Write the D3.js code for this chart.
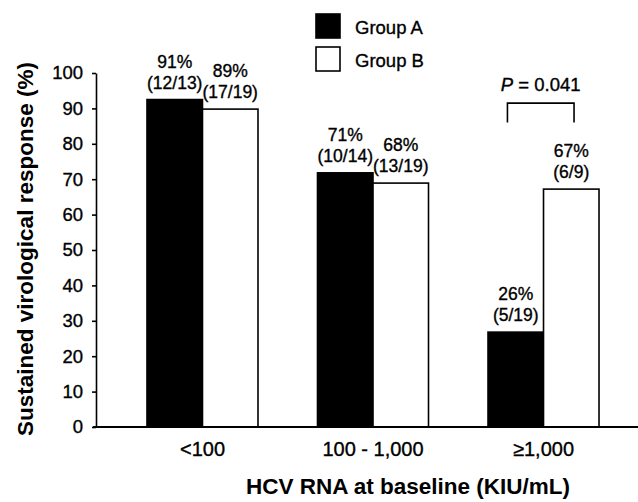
<!DOCTYPE html>
<html>
<head>
<meta charset="utf-8">
<script src="https://cdn.jsdelivr.net/npm/d3@7"></script>
<style>
  html, body { margin: 0; padding: 0; background: #fff; }
  svg { display: block; font-family: "Liberation Sans", Arial, Helvetica, sans-serif; }
  .thick { stroke: #000; stroke-width: 0.35px; }
</style>
</head>
<body>
<svg id="chart" width="638" height="502"></svg>
<script>
// ---- data ----
const categories = ["<100", "100 - 1,000", "\u22651,000"];
const seriesNames = ["Group A", "Group B"];
const groupA = [92.5, 71.8, 26.8];
const groupB = [89.8, 68.9, 67.2];
const groupAPct = ["91%", "71%", "26%"];
const groupBPct = ["89%", "68%", "67%"];
const groupAFrac = ["(12/13)", "(10/14)", "(5/19)"];
const groupBFrac = ["(17/19)", "(13/19)", "(6/9)"];
const yTicks = [0, 10, 20, 30, 40, 50, 60, 70, 80, 90, 100];
const pText = "0.041";
const pCategory = "\u22651,000";

// ---- layout ----
const svg = d3.select("#chart");
const W = 638, H = 502;
const axisX = 96, axisBottom = 427, axisTop = 73;

const y = d3.scaleLinear().domain([0, 100]).range([axisBottom, axisTop]);
const x = d3.scaleBand().domain(categories).range([axisX, 650])
  .paddingInner(0.349).paddingOuter(0.299).align(0.5);
const xs = d3.scaleBand().domain(seriesNames).range([0, x.bandwidth()]).padding(0);

const rows = [];
categories.forEach((c, i) => {
  rows.push({cat: c, s: "Group A", v: groupA[i], pct: groupAPct[i], frac: groupAFrac[i]});
  rows.push({cat: c, s: "Group B", v: groupB[i], pct: groupBPct[i], frac: groupBFrac[i]});
});

// bars
svg.append("g").selectAll("rect").data(rows).join("rect")
  .attr("x", d => x(d.cat) + xs(d.s))
  .attr("y", d => y(d.v))
  .attr("width", xs.bandwidth())
  .attr("height", d => y(0) - y(d.v))
  .attr("fill", d => d.s === "Group A" ? "#000" : "#fff")
  .attr("stroke", "#000")
  .attr("stroke-width", 1.6);

// bar labels
const lab = svg.append("g").attr("font-size", 17.5).attr("text-anchor", "middle").attr("fill", "#000");
rows.forEach(d => {
  const cx = x(d.cat) + xs(d.s) + xs.bandwidth() / 2;
  lab.append("text").attr("class", "thick").attr("x", cx).attr("y", y(d.v) - 32).text(d.pct);
  lab.append("text").attr("class", "thick").attr("x", cx).attr("y", y(d.v) - 11).text(d.frac);
});

// y axis
const yAxis = d3.axisLeft(y).tickValues(yTicks).tickSize(4).tickPadding(9).tickSizeOuter(0);
const gy = svg.append("g").attr("transform", `translate(${axisX},0)`).call(yAxis);
gy.select(".domain").attr("stroke", "#000").attr("stroke-width", 1.6);
gy.selectAll(".tick line").attr("stroke", "#000").attr("stroke-width", 1.6);
gy.selectAll(".tick text").attr("font-size", 18.5).attr("fill", "#000").attr("class", "thick")
  .attr("font-family", "'Liberation Sans', Arial, sans-serif");

// x axis
const xAxis = d3.axisBottom(x).tickSize(0).tickPadding(15);
const gx = svg.append("g").attr("transform", `translate(0,${axisBottom})`).call(xAxis);
gx.select(".domain").remove();
gx.selectAll(".tick text").attr("font-size", 20).attr("fill", "#000").attr("class", "thick")
  .attr("font-family", "'Liberation Sans', Arial, sans-serif");
svg.append("line").attr("x1", axisX - 3).attr("x2", W).attr("y1", axisBottom).attr("y2", axisBottom)
  .attr("stroke", "#000").attr("stroke-width", 1.8);

// axis titles
svg.append("text").attr("x", 408).attr("y", 494).attr("text-anchor", "middle")
  .attr("font-size", 22.5).attr("font-weight", "bold").text("HCV RNA at baseline (KIU/mL)");
svg.append("text").attr("transform", "translate(33,249) rotate(-90)").attr("text-anchor", "middle")
  .attr("font-size", 22.5).attr("font-weight", "bold").text("Sustained virological response (%)");

// legend
const leg = svg.append("g");
seriesNames.forEach((s, i) => {
  const yy = 14 + i * 33;
  leg.append("rect").attr("x", 316).attr("y", yy).attr("width", 24).attr("height", 24)
    .attr("fill", s === "Group A" ? "#000" : "#fff").attr("stroke", "#000").attr("stroke-width", 1.6);
  leg.append("text").attr("class", "thick").attr("x", 355).attr("y", yy + 20).attr("font-size", 18.5).text(s);
});

// significance bracket
const xb1 = x(pCategory) + xs("Group A") + xs.bandwidth() * 0.35;
const xb2 = x(pCategory) + xs("Group B") + xs.bandwidth() * 0.55;
svg.append("path")
  .attr("d", `M${xb1},${y(86)}V${y(91.5)}H${xb2}V${y(86)}`)
  .attr("fill", "none").attr("stroke", "#000").attr("stroke-width", 1.6);
const pt = svg.append("text").attr("class", "thick").attr("x", (xb1 + xb2) / 2).attr("y", y(94.8))
  .attr("text-anchor", "middle").attr("font-size", 18.5);
pt.append("tspan").attr("font-style", "italic").text("P");
pt.append("tspan").text(" = " + pText);
</script>
</body>
</html>
